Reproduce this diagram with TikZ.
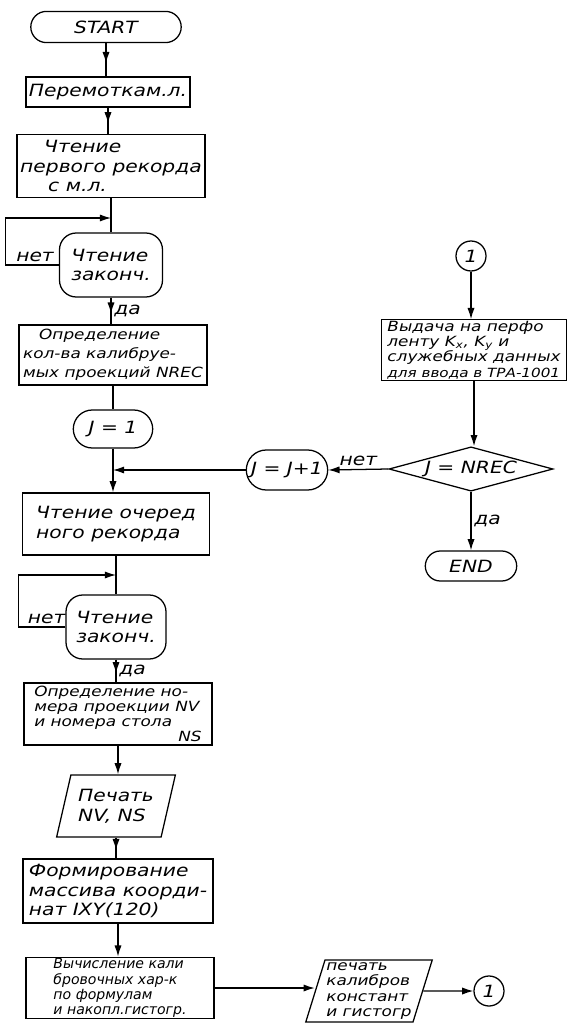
\documentclass[tikz,border=0pt]{standalone}
\usepackage{fontspec}
\setmainfont{DejaVu Sans}[FakeStretch=1.2]
\newfontfamily\narrowfont{DejaVu Sans}
\usetikzlibrary{shapes.geometric,shapes.misc,arrows.meta,decorations.markings}

\tikzset{
  base/.style={draw, line width=0.9pt, font=\itshape\fontsize{12}{14}\selectfont, inner sep=2pt},
  term/.style={base, rounded rectangle},
  proc/.style={base, rectangle, align=left},
  small/.style={font=\itshape\fontsize{10}{10.8}\selectfont, inner sep=1pt},
  narrow/.style={font=\narrowfont\itshape\fontsize{10}{10.8}\selectfont, inner sep=1pt},
  ask/.style={base, rectangle, rounded corners=0.42cm, align=left},
  io/.style={base, trapezium, trapezium left angle=72, trapezium right angle=108, trapezium stretches=true, align=left},
  test/.style={base, diamond, aspect=3.7, inner sep=1pt},
  link/.style={base, circle, minimum size=0.75cm, inner sep=0pt},
  lbl/.style={font=\itshape\fontsize{12}{14}\selectfont, inner sep=2pt},
  arr/.style={line width=0.9pt, -{Latex[length=2.8mm,width=1.8mm]}},
  line/.style={line width=0.9pt},
  midarr/.style={line width=0.9pt, postaction={decorate},
    decoration={markings, mark=at position 0.6 with {\arrow{Latex[length=2.8mm,width=1.8mm]}}}}
}

\begin{document}
\begin{tikzpicture}[x=0.025cm,y=-0.025cm]

\useasboundingbox (0,0) rectangle (570,1023);

% left column
\node[term, minimum width=3.9cm, minimum height=0.78cm] (start) at (106,27) {START};
\node[proc, minimum width=3.875cm, minimum height=0.75cm] (rewind) at (108,92) {Перемоткам.л.};
\node[proc, minimum width=4.7cm, minimum height=1.575cm] (read1) at (111,166) {\hspace*{0.6cm}Чтение\\первого рекорда\\\hspace*{0.7cm}с м.л.};
\node[ask, minimum width=2.575cm, minimum height=1.6cm] (chk1) at (111,265) {Чтение\\законч.};
\node[proc, font=\itshape\fontsize{10}{13.5}\selectfont, minimum width=4.7cm, minimum height=1.5cm] (count) at (113,355) {\hspace*{0.4cm}Определение\\кол-ва калибруе-\\мых проекций NREC};
\node[term, minimum width=2.125cm, minimum height=0.95cm] (jone) at (113,429) {J = 1};
\node[proc, minimum width=4.675cm, minimum height=1.55cm] (read2) at (116,524) {Чтение очеред\\ного рекорда};
\node[ask, minimum width=2.5cm, minimum height=1.6cm] (chk2) at (116,627) {Чтение\\законч.};
\node[proc, small, minimum width=4.7cm, minimum height=1.55cm] (numb) at (118,714) {Определение но-\\мера проекции NV\\и номера стола\\\hspace*{3.6cm}NS};
\node[io, minimum width=2.975cm, minimum height=1.55cm] (prnt1) at (116,806) {Печать\\NV, NS};
\node[proc, minimum width=4.75cm, minimum height=1.6cm] (form) at (118,891) {Формирование\\массива коорди-\\нат IXY(120)};
\node[proc, narrow, minimum width=4.7cm, minimum height=1.525cm] (calc) at (120,988) {Вычисление кали\\бровочных хар-к\\по формулам\\и накопл.гистогр.};

% bottom right
\node[io, small, minimum width=3.05cm, minimum height=1.55cm] (prnt2) at (369,991) {печать\\калибров\\констант\\и гистогр};
\node[link] (link2) at (489,991) {1};

% right column
\node[link] (link1) at (471,256) {1};
\node[proc, small, minimum width=4.625cm, minimum height=1.5cm] (punch) at (474,350) {Выдача на перфо\\ленту K\textsubscript{x}, K\textsubscript{y} и\\служебных данных\\{\fontsize{9}{10.8}\selectfont для ввода в ТРА-1001}};
\node[test, minimum width=3.95cm, minimum height=1.075cm] (cmp) at (471,469) {J = NREC};
\node[term, minimum width=2.175cm, minimum height=1.0cm] (inc) at (287,470) {J = J+1};
\node[term, minimum width=2.425cm, minimum height=0.75cm] (stop) at (471,566) {END};

% joins on the trunk
\coordinate (join1) at (111,218);
\coordinate (join2) at (116,575);
\coordinate (join3) at (113,470);

\draw[midarr] (start.south) -- (start.south |- rewind.north);
\draw[midarr] (rewind.south) -- (rewind.south |- read1.north);
\draw[line] (read1.south) -- (chk1.north);
\draw[arr] (chk1.west) -- node[lbl, above, pos=0.45] {нет} ++(-53,0) |- (join1);
\draw[midarr] (chk1.south) -- node[lbl, right] {да} (chk1.south |- count.north);
\draw[line] (count.south) -- (jone.north);
\draw[arr] (jone.south) -- (jone.south |- read2.north);
\draw[line] (read2.south) -- (chk2.north);
\draw[arr] (chk2.west) -- node[lbl, above, pos=0.4] {нет} ++(-47,0) |- (join2);
\draw[midarr] (chk2.south) -- node[lbl, right] {да} (chk2.south |- numb.north);
\draw[arr] (numb.south) -- (numb.south |- prnt1.north);
\draw[midarr] (prnt1.south) -- (prnt1.south |- form.north);
\draw[arr] (form.south) -- (form.south |- calc.north);
\draw[arr] (calc.east) -- (calc.east -| prnt2.west);
\draw[arr] (prnt2.east) -- (link2.west);

\draw[arr] (link1.south) -- (link1.south |- punch.north);
\draw[arr] (punch.south) -- (punch.south |- cmp.north);
\draw[arr] (cmp.west) -- node[lbl, above, pos=0.5] {нет} (inc.east);
\draw[arr] (inc.west) -- (join3);
\draw[arr] (cmp.south) -- node[lbl, right] {да} (stop.north);

\end{tikzpicture}
\end{document}
